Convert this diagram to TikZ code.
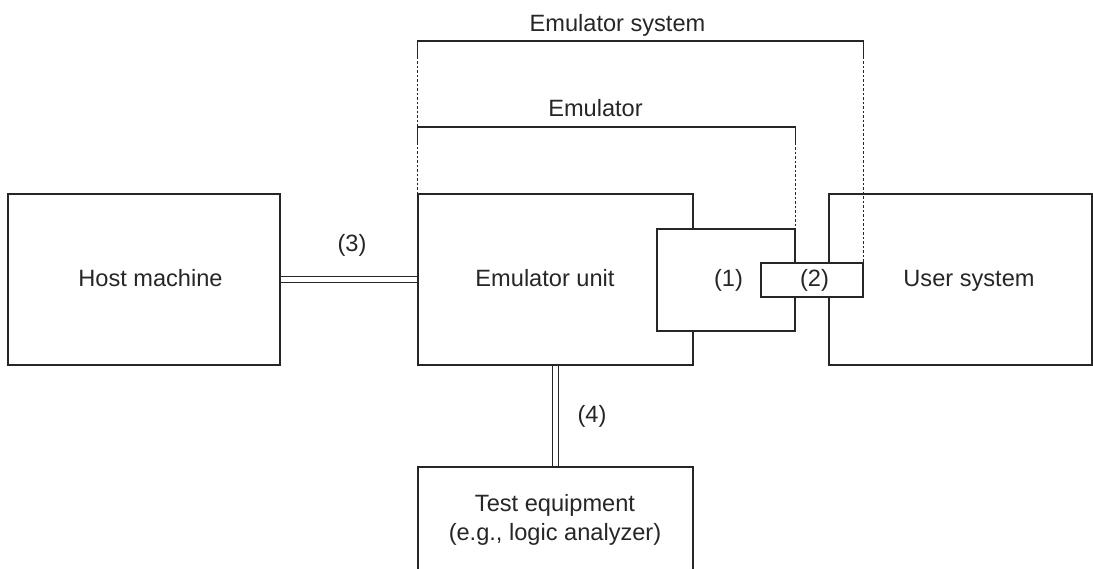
\documentclass[tikz,border=0pt]{standalone}
\usepackage{fontspec}
\setmainfont{Liberation Sans}
\colorlet{ink}{black!85}
\tikzset{
    box/.style={draw=ink, line width=1.3pt, inner sep=0pt},
    lbl/.style={anchor=base, text=ink, font=\fontsize{23.6}{29}\selectfont},
    bracket/.style={draw=ink, line width=1.3pt},
    guide/.style={draw=ink, line width=0.8pt, dash pattern=on 2.5pt off 2pt},
    cable/.style={draw=ink, double, double distance=4.7pt, line width=1.3pt}
}
\begin{document}
\begin{tikzpicture}[x=1pt,y=-1pt]
    \useasboundingbox (0,0) rectangle (1093,569);
    % units
    \node[box, minimum width=272pt, minimum height=171pt] (host) at (144,279.5) {};
    \node[box, minimum width=275pt, minimum height=171pt] (emu) at (555.5,279.5) {};
    \node[box, minimum width=263pt, minimum height=171pt] (user) at (960.5,279.5) {};
    \node[box, minimum width=275pt, minimum height=200pt] (test) at (555.5,567) {};
    \node[box, fill=white, minimum width=138pt, minimum height=102pt] (pod) at (726,280) {};
    \node[box, fill=white, minimum width=102pt, minimum height=34pt] (probe) at (812,280) {};
    % cables
    \draw[cable] (host.east) -- (emu.west);
    \draw[cable] (emu.south) -- (test.north);
    % brackets
    \coordinate (sysL) at (emu.north west |- 0,41);
    \coordinate (sysR) at (probe.north east |- 0,41);
    \coordinate (emuL) at (emu.north west |- 0,127);
    \coordinate (emuR) at (pod.north east |- 0,127);
    \draw[bracket] ([yshift=-16pt]sysL) -- (sysL) -- (sysR) -- ([yshift=-16pt]sysR);
    \draw[bracket] ([yshift=-16pt]emuL) -- (emuL) -- (emuR) -- ([yshift=-16pt]emuR);
    \draw[guide] ([yshift=-16pt]sysL) -- (emu.north west);
    \draw[guide] ([yshift=-16pt]sysR) -- (probe.north east);
    \draw[guide] ([yshift=-16pt]emuR) -- (pod.north east);
    % labels
    \node[lbl] (syslbl) at (617.5,32) {Emulator system};
    \node[lbl] (emulbl) at (595.5,117) {Emulator};
    \node[lbl] (hostlbl) at (150.5,287) {Host machine};
    \node[lbl] (unitlbl) at (545,287) {Emulator unit};
    \node[lbl] (userlbl) at (969,287) {User system};
    \node[lbl] (podlbl) at (728.5,287) {(1)};
    \node[lbl] (probelbl) at (814.5,287) {(2)};
    \node[lbl] (hostlink) at (352,252) {(3)};
    \node[lbl] (testlink) at (592,423) {(4)};
    \node[lbl] (testlbl) at (555,511) {Test equipment};
    \node[lbl] (testnote) at (555,540) {(e.g., logic analyzer)};
\end{tikzpicture}
\end{document}
